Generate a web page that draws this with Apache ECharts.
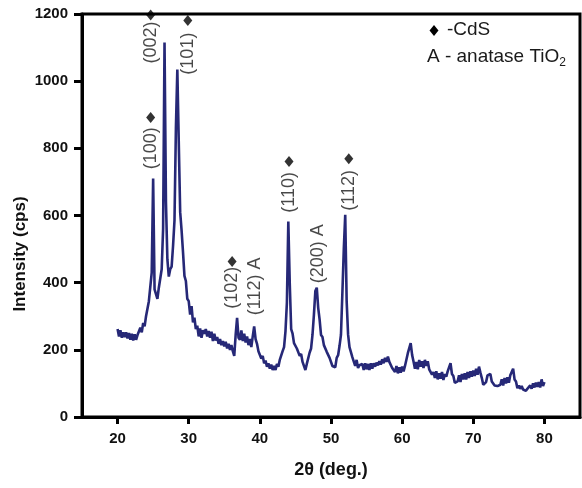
<!DOCTYPE html>
<html>
<head>
<meta charset="utf-8">
<script src="https://cdn.jsdelivr.net/npm/echarts@6/dist/echarts.min.js"></script>
<style>
  html, body { margin: 0; padding: 0; background: #fff; }
  #xrdChart { width: 582px; height: 488px; }
</style>
</head>
<body>
<div id="xrdChart"></div>
<script>
// XRD 图谱：CdS / 锐钛矿 TiO2
var FONT = '"Liberation Sans", Arial, sans-serif';

// 扫描起点与步长（2θ，度）
const scanStart = 20;
const scanStep = 0.2;

// 强度（cps），每行对应 1 度（5 个点）
const counts = [
  262, 240, 258, 236, 252,
  238, 252, 234, 250, 230,
  248, 228, 246, 230, 244,
  240, 266, 252, 280, 270,
  300, 296, 345, 340, 430,
  710, 380, 378, 352, 385,
  380, 440, 560, 1115, 640,
  470, 418, 440, 448, 510,
  585, 860, 1035, 820, 610,
  555, 490, 420, 405, 352,
  345, 305, 330, 282, 296,
  262, 272, 240, 264, 236,
  258, 248, 262, 240, 256,
  236, 254, 226, 248, 228,
  238, 218, 232, 214, 226,
  210, 224, 204, 218, 200,
  214, 196, 182, 245, 295,
  236, 230, 258, 226, 248,
  222, 240, 214, 232, 208,
  240, 270, 232, 218, 196,
  200, 174, 182, 160, 168,
  150, 160, 144, 156, 140,
  152, 140, 158, 150, 170,
  168, 196, 208, 255, 340,
  582, 400, 262, 248, 220,
  222, 204, 206, 182, 188,
  164, 168, 140, 158, 160,
  192, 204, 245, 305, 375,
  385, 325, 290, 244, 238,
  214, 218, 194, 198, 176,
  178, 152, 150, 148, 176,
  184, 212, 245, 370, 500,
  602, 345, 246, 208, 212,
  178, 176, 152, 170, 146,
  154, 150, 158, 140, 160,
  142, 158, 140, 160, 144,
  160, 150, 162, 154, 166,
  156, 172, 160, 176, 164,
  180, 164, 168, 146, 150,
  134, 152, 130, 148, 132,
  150, 136, 152, 156, 190,
  205, 220, 185, 165, 144,
  164, 142, 170, 150, 166,
  146, 170, 152, 166, 142,
  146, 126, 134, 116, 136,
  112, 130, 114, 134, 110,
  128, 120, 136, 134, 160,
  128, 122, 102, 106, 106,
  124, 104, 128, 112, 130,
  112, 134, 116, 136, 120,
  138, 122, 144, 126, 150,
  132, 116, 96, 100, 104,
  124, 120, 128, 106, 110,
  94, 98, 92, 96, 96,
  112, 94, 116, 100, 118,
  102, 124, 122, 144, 112,
  106, 86, 94, 84, 92,
  82, 86, 78, 84, 82,
  94, 84, 100, 88, 102,
  90, 104, 88, 112, 92,
  104
];

// 坐标轴刻度
const xTicks = [20, 30, 40, 50, 60, 70, 80];

// 晶面标注：文字、中心位置 (2θ, cps)
const hklText = ['(100)', '(002)', '(101)', '(102)', '(112) A', '(110)', '(200) A', '(112)'];
const hklX    = [24.65, 24.65, 29.87, 36.1, 39.35, 44.1, 48.2, 52.5];
const hklY    = [800, 1115, 1082, 385, 389, 669, 486, 675];

// CdS 峰的菱形标记位置
const cdsX = [24.65, 24.65, 29.87, 36.1, 44.1, 52.5];
const cdsY = [892, 1197, 1181, 463, 761, 769];

var chart = echarts.init(document.getElementById('xrdChart'));

var lineData = counts.map(function (c, i) {
  return [+(scanStart + scanStep * i).toFixed(1), c];
});

var option = {
  animation: false,
  backgroundColor: '#fff',
  grid: {
    left: 82, right: 2, top: 14, bottom: 71,
    show: true,
    borderColor: '#000',
    borderWidth: 3
  },
  xAxis: {
    type: 'value',
    min: 15,
    max: 85,
    name: '2θ (deg.)',
    nameLocation: 'middle',
    nameGap: 44,
    nameTextStyle: { fontFamily: FONT, fontWeight: 'bold', fontSize: 18, color: '#111' },
    splitLine: { show: false },
    axisLine: { onZero: false, lineStyle: { color: '#000', width: 3 } },
    axisTick: { show: true, length: 7, customValues: xTicks, lineStyle: { color: '#000', width: 3 } },
    axisLabel: { customValues: xTicks, margin: 14, fontFamily: FONT, fontWeight: 'bold', fontSize: 15, color: '#111' }
  },
  yAxis: {
    type: 'value',
    min: 0,
    max: 1200,
    interval: 200,
    splitLine: { show: false },
    axisLine: { show: true, lineStyle: { color: '#000', width: 3 } },
    axisTick: { show: true, length: 8, lineStyle: { color: '#000', width: 3 } },
    axisLabel: {
      margin: 14, fontFamily: FONT, fontWeight: 'bold', fontSize: 15, color: '#111',
      formatter: function (v) { return String(v); }
    }
  },
  graphic: [
    {
      type: 'text', x: 20, y: 254, rotation: Math.PI / 2,
      style: {
        text: 'Intensity (cps)', fontFamily: FONT, fontWeight: 'bold', fontSize: 17,
        fill: '#111', align: 'center', verticalAlign: 'middle'
      }
    },
    {
      type: 'polygon',
      shape: { points: [[434, 25], [438.5, 30.5], [434, 36], [429.5, 30.5]] },
      style: { fill: '#000' }
    },
    {
      type: 'text', x: 447, y: 30,
      style: { text: '-CdS', fontFamily: FONT, fontSize: 19, fill: '#1a1a1a', verticalAlign: 'middle' }
    },
    {
      type: 'text', x: 427, y: 57,
      style: {
        text: 'A - anatase TiO{sub|2}',
        fontFamily: FONT, fontSize: 19, fill: '#1a1a1a', verticalAlign: 'middle',
        rich: { sub: { fontSize: 12, fontFamily: FONT, fill: '#1a1a1a', padding: [12, 0, 0, 0] } }
      }
    }
  ],
  series: [
    {
      name: 'XRD',
      type: 'line',
      data: lineData,
      symbol: 'none',
      lineStyle: { color: '#262877', width: 2.6 },
      z: 3
    },
    {
      name: 'CdS',
      type: 'scatter',
      data: cdsX.map(function (x, i) { return [x, cdsY[i]]; }),
      symbol: 'diamond',
      symbolSize: [9, 11],
      itemStyle: { color: '#000' },
      z: 5
    },
    {
      name: 'hkl',
      type: 'scatter',
      data: hklX.map(function (x, i) { return [x, hklY[i], hklText[i]]; }),
      symbolSize: 0,
      z: 6,
      label: {
        show: true,
        position: 'inside',
        rotate: 90,
        formatter: function (p) { return p.data[2]; },
        fontFamily: FONT,
        fontSize: 18,
        color: '#1a1a1a'
      }
    }
  ]
};

chart.setOption(option);
</script>
</body>
</html>
